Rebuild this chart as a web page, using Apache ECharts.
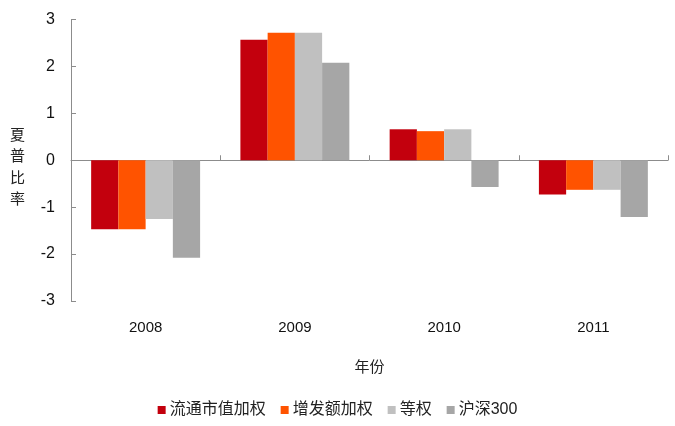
<!DOCTYPE html>
<html><head><meta charset="utf-8">
<script src="https://cdn.jsdelivr.net/npm/echarts@6/dist/echarts.min.js"></script>
<style>html,body{margin:0;padding:0;background:#fff}#c{width:675px;height:426px}</style>
</head><body><div id="c"></div>
<script>
const categories = ['2008', '2009', '2010', '2011'];
const seriesNames = ['流通市值加权', '增发额加权', '等权', '沪深300'];
const floatCapWeighted = [-1.47, 2.57, 0.66, -0.73];
const issueWeighted = [-1.47, 2.72, 0.62, -0.63];
const equalWeighted = [-1.25, 2.72, 0.66, -0.63];
const csi300 = [-2.08, 2.08, -0.57, -1.21];
const yTicks = [-3, -2, -1, 0, 1, 2, 3];
const colors = ['#C3000D', '#FF5300', '#C0C0C0', '#A6A6A6'];
const seriesData = [floatCapWeighted, issueWeighted, equalWeighted, csi300];

const font = '"Liberation Sans", Arial, "Noto Sans CJK SC", sans-serif';
const chart = echarts.init(document.getElementById('c'), null, {renderer: 'canvas'});
chart.setOption({
  animation: false,
  textStyle: {fontFamily: font},
  grid: {left: 71, right: 7, top: 19.5, bottom: 125, containLabel: false},
  legend: {
    bottom: 3, left: 'center',
    itemWidth: 8, itemHeight: 8, itemGap: 15,
    icon: 'rect',
    textStyle: {fontSize: 16, color: '#222', fontFamily: font, padding: [0, 0, 0, -1]},
    data: seriesNames
  },
  xAxis: [
    {
      type: 'category', data: categories,
      axisLine: {onZero: true, lineStyle: {color: '#8c8c8c', width: 1}},
      axisTick: {show: true, inside: true, length: 5, lineStyle: {color: '#8c8c8c'}},
      axisLabel: {show: false},
      splitLine: {show: false}
    },
    {
      type: 'category', data: categories, position: 'bottom',
      axisLine: {show: false, onZero: false},
      axisTick: {show: false},
      axisLabel: {show: true, margin: 19, fontSize: 15, color: '#111', fontFamily: font},
      name: '年份', nameLocation: 'middle', nameGap: 59,
      nameTextStyle: {fontSize: 15, color: '#222', fontFamily: font}
    }
  ],
  yAxis: {
    type: 'value', min: -3, max: 3, interval: 1,
    axisLine: {show: true, lineStyle: {color: '#8c8c8c', width: 1}},
    axisTick: {show: true, inside: true, length: 5, lineStyle: {color: '#8c8c8c'}},
    axisLabel: {fontSize: 16, color: '#111', margin: 16, fontFamily: font,
      formatter: v => yTicks.includes(v) ? String(v) : ''},
    splitLine: {show: false}
  },
  graphic: [{
    type: 'text', left: 10, top: 125,
    style: {text: '夏\n普\n比\n率', fontSize: 15, lineHeight: 21.5, fill: '#222', fontFamily: font}
  }],
  series: seriesNames.map((n, i) => ({
    name: n, type: 'bar', xAxisIndex: 0,
    data: seriesData[i],
    itemStyle: {color: colors[i]},
    barGap: '0%', barCategoryGap: '27%'
  }))
});
</script></body></html>
